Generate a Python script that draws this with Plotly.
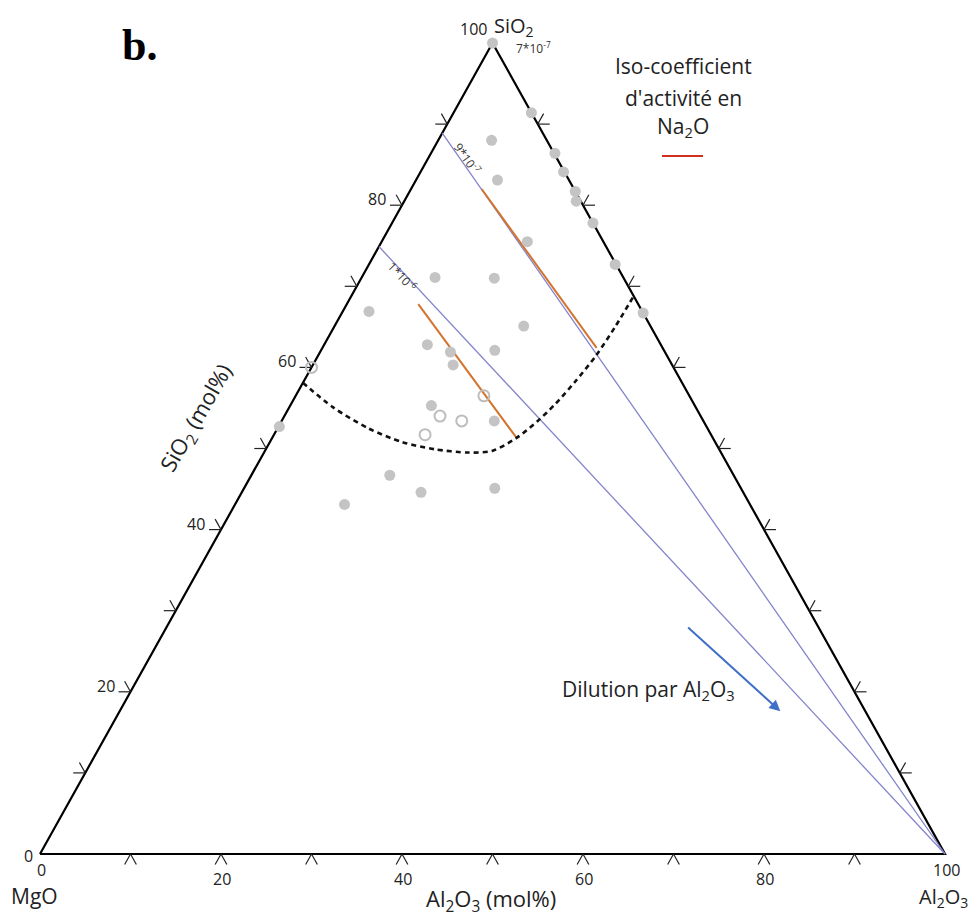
import plotly.graph_objects as go

# ---------------- data (mol%) ----------------
filled_sio2 = [100, 91.4, 88.0, 86.4, 84.1, 83.1, 81.7, 80.5, 77.8, 75.5, 72.7, 71.1, 71.0, 66.7,
               66.9, 65.1, 62.8, 61.9, 62.1, 60.3, 55.3, 53.4, 52.7, 46.7, 44.6, 45.1, 43.1]
filled_al2o3 = [0, 8.6, 5.9, 13.7, 15.8, 9.0, 18.3, 19.0, 22.2, 16.1, 27.2, 8.1, 14.7, 33.3,
                2.9, 20.9, 11.4, 14.4, 19.2, 15.5, 15.6, 23.5, 0.1, 15.3, 19.8, 27.7, 12.1]

open_sio2 = [60.0, 56.5, 54.0, 53.4, 51.7]
open_al2o3 = [0.0, 20.8, 17.2, 19.9, 16.7]

# dilution lines: from left edge (MgO-SiO2 join) toward the Al2O3 apex
dilution_start_sio2 = [88.9, 74.9]
dilution_labels = ["9*10<sup>-7</sup>", "1*10<sup>-6</sup>"]

# iso-activity segments (Na2O)
iso1_sio2 = [82.0, 62.4]
iso1_al2o3 = [7.8, 30.3]
iso2_sio2 = [67.8, 51.4]
iso2_al2o3 = [7.9, 26.9]

# dotted boundary curve
curve_sio2 = [58.1, 55.1, 52.5, 50.8, 49.9, 49.5, 49.7, 51.3, 53.4, 55.5, 58.2, 61.4, 65.0, 68.8]
curve_al2o3 = [0.0, 4.8, 10.0, 14.6, 18.7, 22.6, 25.1, 27.0, 28.3, 29.2, 30.0, 30.7, 31.05, 31.2]

# dilution arrow (tail, head)
arrow_sio2 = [28.1, 17.6]
arrow_al2o3 = [57.4, 73.0]

tick_values = [10, 20, 30, 40, 50, 60, 70, 80, 90]
left_labels = [0, 20, 40, 60, 80, 100]
bottom_labels = [0, 20, 40, 60, 80, 100]

# ---------------- geometry ----------------
OFF = 8                      # default page margin around the figure
W, H = 977 - OFF, 917 - OFF
X0, Y0 = 40.0 - OFF, 854.0 - OFF   # figure pixel of MgO apex
XS, YS = 9.05, 8.11                # pixels per mol% unit


def to_xy(si, al):
    xs = [a + s / 2.0 for s, a in zip(si, al)]
    return xs, list(si)


def px(xp, yp):
    return (xp - OFF - X0) / XS, (Y0 - (yp - OFF)) / YS


fig = go.Figure()

# triangle
tx, ty = to_xy([0, 100, 0, 0], [0, 0, 100, 0])
fig.add_trace(go.Scatter(x=tx, y=ty, mode="lines", line=dict(color="black", width=2.2),
                         hoverinfo="skip", showlegend=False))

# tick marks (gridline extensions)
L = 12.0
edge_len = (452.5 ** 2 + 811 ** 2) ** 0.5
dx_d = 452.5 / edge_len * L / XS
dy_d = 811 / edge_len * L / YS
hx = L / XS


def tick_trace(points, arms):
    xs, ys = [], []
    for (x, y) in points:
        for (ax, ay) in arms:
            xs += [x, x + ax, None]
            ys += [y, y + ay, None]
    return go.Scatter(x=xs, y=ys, mode="lines", line=dict(color="#222", width=1.2),
                      hoverinfo="skip", showlegend=False)

lpts = list(zip(*to_xy(tick_values, [0] * 9)))
bpts = list(zip(*to_xy([0] * 9, tick_values)))
rpts = list(zip(*to_xy(tick_values, [100 - v for v in tick_values])))
fig.add_trace(tick_trace(lpts, [(-hx, 0), (-dx_d, dy_d)]))
fig.add_trace(tick_trace(bpts, [(-dx_d, -dy_d), (dx_d, -dy_d)]))
fig.add_trace(tick_trace(rpts, [(hx, 0), (dx_d, dy_d)]))

# dilution lines
for s in dilution_start_sio2:
    lx, ly = to_xy([s, 0], [0, 100])
    fig.add_trace(go.Scatter(x=lx, y=ly, mode="lines", line=dict(color="#8484cc", width=1.3),
                             hoverinfo="skip", showlegend=False))

# iso-activity segments
for si, al in [(iso1_sio2, iso1_al2o3), (iso2_sio2, iso2_al2o3)]:
    lx, ly = to_xy(si, al)
    fig.add_trace(go.Scatter(x=lx, y=ly, mode="lines", line=dict(color="#d2742e", width=2),
                             hoverinfo="skip", showlegend=False))

# boundary curve
cx, cy = to_xy(curve_sio2, curve_al2o3)
fig.add_trace(go.Scatter(x=cx, y=cy, mode="lines",
                         line=dict(color="#111", width=2.6, dash="5px,4px", shape="spline", smoothing=0.8),
                         hoverinfo="skip", showlegend=False))

# points
fx, fy = to_xy(filled_sio2, filled_al2o3)
fig.add_trace(go.Scatter(x=fx, y=fy, mode="markers",
                         marker=dict(color="#c4c4c4", size=11, line=dict(width=0)),
                         hoverinfo="skip", showlegend=False))
ox, oy = to_xy(open_sio2, open_al2o3)
fig.add_trace(go.Scatter(x=ox, y=oy, mode="markers",
                         marker=dict(color="rgba(255,255,255,0)", size=11,
                                     line=dict(color="#bdbdbd", width=2)),
                         hoverinfo="skip", showlegend=False))

ann = []
FONT = "Open Sans, Noto Sans, sans-serif"

# dilution arrow
ax_, ay_ = to_xy(arrow_sio2, arrow_al2o3)
ann.append(dict(x=ax_[1], y=ay_[1], ax=ax_[0], ay=ay_[0], xref="x", yref="y", axref="x", ayref="y",
                showarrow=True, arrowhead=2, arrowsize=1.1, arrowwidth=2, arrowcolor="#3f6fc6", text=""))


def tickfont():
    return dict(family=FONT, size=16, color="#222")

# tick labels: left (SiO2)
for v in left_labels:
    x, y = to_xy([v], [0])
    if v == 0:
        ann.append(dict(x=x[0], y=y[0], text="0", xanchor="right", yanchor="middle", xshift=-5, yshift=-2,
                        showarrow=False, font=tickfont()))
    elif v == 100:
        ann.append(dict(x=x[0], y=y[0], text="100", xanchor="right", yanchor="middle", xshift=-4, yshift=14,
                        showarrow=False, font=tickfont()))
    else:
        ann.append(dict(x=x[0], y=y[0], text=str(v), xanchor="right", yanchor="middle", xshift=-14, yshift=6,
                        showarrow=False, font=tickfont()))

# tick labels: bottom (Al2O3)
for v in bottom_labels:
    x, y = to_xy([0], [v])
    ys = -16 if v in (0, 100) else -25
    ann.append(dict(x=x[0], y=y[0], text=str(v), xanchor="center", yanchor="middle", yshift=ys, xshift=1,
                    showarrow=False, font=tickfont()))

# labels on iso lines
lab_pos = [(467, 158, 55), (402, 276, 47)]
for txt, (xp, yp, ang) in zip(dilution_labels, lab_pos):
    x, y = px(xp, yp)
    ann.append(dict(x=x, y=y, text=txt, textangle=ang, showarrow=False, xanchor="center", yanchor="middle",
                    font=dict(family=FONT, size=12, color="#333")))
x, y = px(533, 48)
ann.append(dict(x=x, y=y, text="7*10<sup>-7</sup>", showarrow=False, xanchor="center", yanchor="middle",
                font=dict(family=FONT, size=12, color="#333")))


def paper(xp, yp, text, size, **kw):
    d = dict(x=(xp - OFF) / W, y=1 - (yp - OFF) / H, xref="paper", yref="paper", text=text, showarrow=False,
             xanchor="center", yanchor="middle",
             font=dict(family=kw.pop("family", FONT), size=size, color=kw.pop("color", "#222")))
    d.update(kw)
    return d

ann.append(paper(514, 26, "SiO<sub>2</sub>", 20))
ann.append(paper(34, 896, "MgO", 21))
ann.append(paper(943, 897, "Al<sub>2</sub>O<sub>3</sub>", 20))
ann.append(paper(491, 900, "Al<sub>2</sub>O<sub>3</sub> (mol%)", 22))
ann.append(paper(197, 418, "SiO<sub>2</sub> (mol%)", 22, textangle=-60))
ann.append(paper(139, 45, "<b>b.</b>", 44, family="Liberation Serif, Times New Roman, serif", color="black"))
ann.append(paper(683, 66, "Iso-coefficient", 21))
ann.append(paper(683, 98, "d'activité en", 21))
ann.append(paper(683, 127, "Na<sub>2</sub>O", 21))
ann.append(paper(648, 690, "Dilution par Al<sub>2</sub>O<sub>3</sub>", 21))

fig.update_layout(
    width=W, height=H, autosize=False,
    margin=dict(l=0, r=0, t=0, b=0, pad=0),
    paper_bgcolor="white", plot_bgcolor="white",
    xaxis=dict(range=[-X0 / XS, (W - X0) / XS], visible=False, fixedrange=True),
    yaxis=dict(range=[(Y0 - H) / YS, Y0 / YS], visible=False, fixedrange=True),
    annotations=ann,
    shapes=[dict(type="line", xref="paper", yref="paper", x0=(662 - OFF) / W, x1=(703 - OFF) / W,
                 y0=1 - (156 - OFF) / H, y1=1 - (156 - OFF) / H, line=dict(color="#d2301e", width=2))],
    showlegend=False,
)

fig.write_html("out.html")
